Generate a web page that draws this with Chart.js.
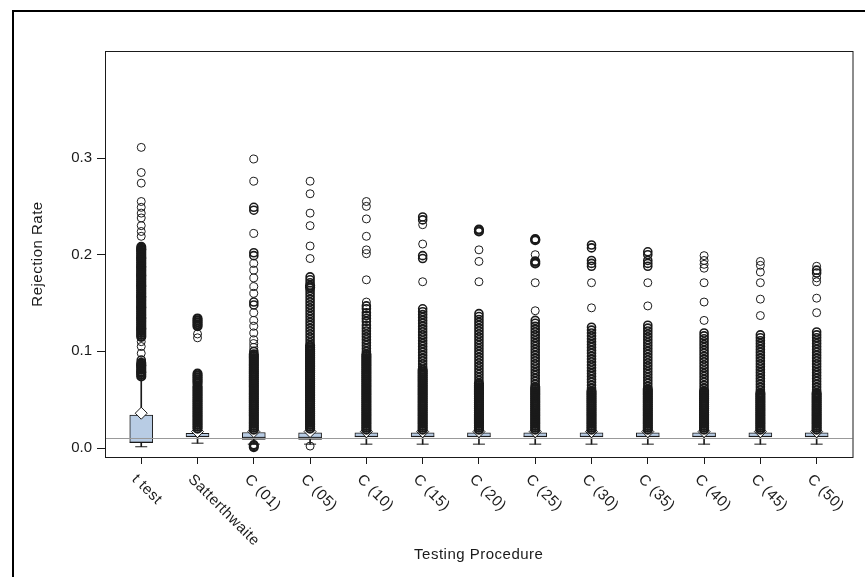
<!DOCTYPE html>
<html>
<head>
<meta charset="utf-8">
<script src="https://cdn.jsdelivr.net/npm/chart.js@4.4.1/dist/chart.umd.min.js"></script>
<style>
  html, body { margin: 0; padding: 0; background: #fff; }
  #frame { position: absolute; left: 12px; top: 10px; width: 880px; height: 600px; border: 2px solid #000; box-sizing: border-box; }
  #chart { position: absolute; left: 0; top: 0; }
</style>
</head>
<body>
<div id="frame"></div>
<canvas id="chart" width="865" height="577"></canvas>
<script>
// categories and tick labels
const categories = ['t test', 'Satterthwaite', 'C (01)', 'C (05)', 'C (10)', 'C (15)', 'C (20)',
                    'C (25)', 'C (30)', 'C (35)', 'C (40)', 'C (45)', 'C (50)'];
const yTicks = [0.0, 0.1, 0.2, 0.3];
const refRate = 0.01;

// box statistics
const q1s       = [0.0055, 0.0114, 0.009, 0.009, 0.0115, 0.0115, 0.0115, 0.0115, 0.0115, 0.0115, 0.0115, 0.0115, 0.0115];
const medians   = [0.006, 0.012, 0.011, 0.011, 0.012, 0.012, 0.012, 0.012, 0.012, 0.012, 0.012, 0.012, 0.012];
const q3s       = [0.034, 0.0152, 0.016, 0.0158, 0.0158, 0.0158, 0.0158, 0.0158, 0.0158, 0.0158, 0.0158, 0.0158, 0.0158];
const means     = [0.036, 0.017, 0.017, 0.017, 0.017, 0.017, 0.017, 0.017, 0.017, 0.017, 0.017, 0.017, 0.017];
const whiskLow  = [0.0013, 0.005, 0.004, 0.004, 0.004, 0.004, 0.004, 0.004, 0.004, 0.004, 0.004, 0.004, 0.004];
const whiskHigh = [0.073, 0.021, 0.019, 0.019, 0.019, 0.019, 0.019, 0.019, 0.019, 0.019, 0.019, 0.019, 0.019];

// outliers per procedure
const outTTest = [0.311, 0.285, 0.274, 0.255, 0.249, 0.243, 0.238, 0.230, 0.224, 0.219,
  0.208, 0.206, 0.205, 0.203, 0.201, 0.199, 0.197, 0.196, 0.194, 0.192, 0.190, 0.188, 0.187, 0.185, 0.183,
  0.181, 0.179, 0.178, 0.176, 0.174, 0.172, 0.170, 0.168, 0.167, 0.165, 0.163, 0.161, 0.159, 0.157, 0.156,
  0.154, 0.152, 0.150, 0.148, 0.146, 0.145, 0.143, 0.141, 0.139, 0.137, 0.135, 0.134, 0.132, 0.130, 0.128,
  0.126, 0.124, 0.123, 0.121, 0.119, 0.117, 0.115,
  0.110, 0.105, 0.098, 0.091,
  0.088, 0.086, 0.085, 0.083, 0.081, 0.079, 0.078, 0.076, 0.074];
const outSatt = [0.134, 0.132, 0.130, 0.128, 0.126, 0.118, 0.114,
  0.077, 0.075, 0.073, 0.071, 0.069, 0.067, 0.064, 0.062, 0.060, 0.058, 0.056, 0.054, 0.052, 0.050, 0.048,
  0.046, 0.044, 0.042, 0.040, 0.038, 0.036, 0.034, 0.032, 0.030, 0.028, 0.026, 0.024, 0.022, 0.020];
const outC01 = [0.299, 0.276, 0.249, 0.246, 0.222, 0.202, 0.199, 0.191, 0.184, 0.176, 0.167, 0.160, 0.151,
  0.148, 0.140, 0.132, 0.126, 0.119, 0.112, 0.108, 0.104, 0.100,
  0.097, 0.095, 0.093, 0.091, 0.089, 0.087, 0.085, 0.083, 0.081, 0.079, 0.077, 0.075, 0.073, 0.071, 0.069,
  0.067, 0.065, 0.063, 0.061, 0.059, 0.057, 0.055, 0.053, 0.051, 0.049, 0.047, 0.045, 0.043, 0.041, 0.039,
  0.037, 0.035, 0.033, 0.031, 0.029, 0.027, 0.025, 0.023, 0.021, 0.019,
  0.003, 0.001];
const outC05 = [0.276, 0.263, 0.243, 0.230, 0.209, 0.196,
  0.177, 0.174, 0.171, 0.168, 0.166, 0.163, 0.160, 0.157, 0.154, 0.151, 0.148, 0.145, 0.142, 0.139, 0.136,
  0.133, 0.130, 0.127, 0.124, 0.121, 0.118, 0.115, 0.112, 0.109, 0.106,
  0.104, 0.102, 0.100, 0.098, 0.096, 0.094, 0.092, 0.090, 0.088, 0.086, 0.084, 0.082, 0.080, 0.078, 0.076,
  0.074, 0.072, 0.070, 0.068, 0.066, 0.064, 0.062, 0.060, 0.058, 0.056, 0.054, 0.052, 0.050, 0.048, 0.046,
  0.044, 0.042, 0.040, 0.038, 0.036, 0.034, 0.032, 0.030, 0.028, 0.026, 0.024, 0.022, 0.020,
  0.002];
const outC10 = [0.255, 0.250, 0.237, 0.219, 0.205, 0.201, 0.174, 0.151,
  0.147, 0.144, 0.140, 0.137, 0.134, 0.131, 0.127, 0.124, 0.121, 0.118, 0.115, 0.112, 0.109, 0.106, 0.103, 0.100,
  0.097, 0.095, 0.093, 0.091, 0.089, 0.087, 0.085, 0.083, 0.081, 0.079, 0.077, 0.075, 0.073, 0.071, 0.069,
  0.067, 0.065, 0.063, 0.061, 0.059, 0.057, 0.055, 0.053, 0.051, 0.049, 0.047, 0.045, 0.043, 0.041, 0.039,
  0.037, 0.035, 0.033, 0.031, 0.029, 0.027, 0.025, 0.023, 0.021, 0.019];
const outC15 = [0.239, 0.236, 0.231, 0.211, 0.199, 0.196, 0.172,
  0.144, 0.141, 0.138, 0.135, 0.132, 0.129, 0.126, 0.123, 0.120, 0.117, 0.114, 0.111, 0.108, 0.105, 0.102,
  0.099, 0.096, 0.093, 0.090, 0.087, 0.084, 0.081,
  0.079, 0.077, 0.075, 0.073, 0.071, 0.069, 0.067, 0.065, 0.063, 0.061, 0.059, 0.057, 0.055, 0.053, 0.051,
  0.049, 0.047, 0.045, 0.043, 0.041, 0.039, 0.037, 0.035, 0.033, 0.031, 0.029, 0.027, 0.025, 0.023, 0.021, 0.019];
const outC20 = [0.226, 0.224, 0.205, 0.193, 0.172,
  0.139, 0.136, 0.133, 0.130, 0.127, 0.124, 0.121, 0.118, 0.115, 0.112, 0.109, 0.106, 0.103, 0.100, 0.097,
  0.094, 0.091, 0.088, 0.085, 0.082, 0.079, 0.076, 0.073, 0.070, 0.067,
  0.065, 0.063, 0.061, 0.059, 0.057, 0.055, 0.053, 0.051, 0.049, 0.047, 0.045, 0.043, 0.041, 0.039, 0.037,
  0.035, 0.033, 0.031, 0.029, 0.027, 0.025, 0.023, 0.021, 0.019];
const outC25 = [0.216, 0.215, 0.200, 0.193, 0.191, 0.171, 0.142,
  0.132, 0.129, 0.126, 0.123, 0.120, 0.117, 0.114, 0.111, 0.108, 0.105, 0.102, 0.099, 0.096, 0.093, 0.090,
  0.087, 0.084, 0.081, 0.078, 0.075, 0.072, 0.069, 0.066, 0.063,
  0.061, 0.059, 0.057, 0.055, 0.053, 0.051, 0.049, 0.047, 0.045, 0.043, 0.041, 0.039, 0.037, 0.035, 0.033,
  0.031, 0.029, 0.027, 0.025, 0.023, 0.021, 0.019];
const outC30 = [0.210, 0.207, 0.194, 0.191, 0.188, 0.171, 0.145,
  0.125, 0.122, 0.119, 0.116, 0.113, 0.110, 0.107, 0.104, 0.101, 0.098, 0.095, 0.092, 0.089, 0.086, 0.083,
  0.080, 0.077, 0.074, 0.071, 0.068, 0.065, 0.062, 0.059,
  0.057, 0.055, 0.053, 0.051, 0.049, 0.047, 0.045, 0.043, 0.041, 0.039, 0.037, 0.035, 0.033, 0.031, 0.029,
  0.027, 0.025, 0.023, 0.021, 0.019];
const outC35 = [0.203, 0.200, 0.194, 0.191, 0.188, 0.171, 0.147,
  0.127, 0.124, 0.121, 0.118, 0.115, 0.112, 0.109, 0.106, 0.103, 0.100, 0.097, 0.094, 0.091, 0.088, 0.085,
  0.082, 0.079, 0.076, 0.073, 0.070, 0.067, 0.064,
  0.061, 0.059, 0.057, 0.055, 0.053, 0.051, 0.049, 0.047, 0.045, 0.043, 0.041, 0.039, 0.037, 0.035, 0.033,
  0.031, 0.029, 0.027, 0.025, 0.023, 0.021, 0.019];
const outC40 = [0.199, 0.194, 0.190, 0.186, 0.171, 0.151, 0.132,
  0.119, 0.116, 0.113, 0.110, 0.107, 0.104, 0.101, 0.098, 0.095, 0.092, 0.089, 0.086, 0.083, 0.080, 0.077,
  0.074, 0.071, 0.068, 0.065, 0.062,
  0.059, 0.057, 0.055, 0.053, 0.051, 0.049, 0.047, 0.045, 0.043, 0.041, 0.039, 0.037, 0.035, 0.033, 0.031,
  0.029, 0.027, 0.025, 0.023, 0.021, 0.019];
const outC45 = [0.193, 0.189, 0.182, 0.171, 0.154, 0.137,
  0.117, 0.114, 0.111, 0.108, 0.105, 0.102, 0.099, 0.096, 0.093, 0.090, 0.087, 0.084, 0.081, 0.078, 0.075,
  0.072, 0.069, 0.066, 0.063, 0.060, 0.057,
  0.055, 0.053, 0.051, 0.049, 0.047, 0.045, 0.043, 0.041, 0.039, 0.037, 0.035, 0.033, 0.031, 0.029, 0.027,
  0.025, 0.023, 0.021, 0.019];
const outC50 = [0.188, 0.184, 0.181, 0.176, 0.172, 0.155, 0.140,
  0.120, 0.117, 0.114, 0.111, 0.108, 0.105, 0.102, 0.099, 0.096, 0.093, 0.090, 0.087, 0.084, 0.081, 0.078,
  0.075, 0.072, 0.069, 0.066, 0.063, 0.060, 0.057,
  0.055, 0.053, 0.051, 0.049, 0.047, 0.045, 0.043, 0.041, 0.039, 0.037, 0.035, 0.033, 0.031, 0.029, 0.027,
  0.025, 0.023, 0.021, 0.019];
const outliers = [outTTest, outSatt, outC01, outC05, outC10, outC15, outC20,
                  outC25, outC30, outC35, outC40, outC45, outC50];

const FONT = "'Liberation Sans', Arial, sans-serif";
const INK = '#1a1a1a';

// build datasets from the arrays
const boxData = categories.map((c, i) => ({ x: i, y: [q1s[i], q3s[i]] }));
const upperWhisk = categories.map((c, i) => ({ x: i, y: [q3s[i], whiskHigh[i]] }));
const lowerWhisk = categories.map((c, i) => ({ x: i, y: [whiskLow[i], q1s[i]] }));
const capData = categories.map((c, i) => ({ x: i, y: whiskLow[i] }));
const medianData = categories.map((c, i) => ({ x: i, y: medians[i] }));
const meanData = categories.map((c, i) => ({ x: i, y: means[i] }));
const outlierData = [];
outliers.forEach((list, i) => list.forEach((v, k) => {
    // gap to the nearest neighbour in the same column, used to thicken packed runs
    const gaps = [];
    if (k > 0) gaps.push(Math.abs(list[k - 1] - v));
    if (k < list.length - 1) gaps.push(Math.abs(list[k + 1] - v));
    outlierData.push({ x: i, y: v, gap: Math.min(...gaps) });
}));

function ringWidth(c) {
    if (!c.raw) return 1;
    if (c.raw.gap < 0.0025) return 2.2;
    if (c.raw.gap < 0.0035) return 1.6;
    return 1;
}

// frame, reference line, rotated category labels and axis titles
const extras = {
    id: 'extras',
    afterDatasetsDraw(chart) {
        const { ctx, chartArea: a, scales } = chart;
        const yRef = scales.y.getPixelForValue(refRate);
        ctx.save();
        ctx.strokeStyle = '#999';
        ctx.lineWidth = 1;
        ctx.beginPath();
        ctx.moveTo(a.left, Math.round(yRef) + 0.5);
        ctx.lineTo(a.right, Math.round(yRef) + 0.5);
        ctx.stroke();
        ctx.strokeStyle = INK;
        ctx.strokeRect(a.left + 0.5, a.top + 0.5, a.right - a.left, a.bottom - a.top);
        ctx.restore();
    },
    afterDraw(chart) {
        const { ctx, chartArea: a, scales } = chart;
        ctx.save();
        ctx.fillStyle = INK;
        ctx.font = '15px ' + FONT;
        ctx.letterSpacing = '0.5px';
        ctx.textAlign = 'left';
        ctx.textBaseline = 'middle';
        categories.forEach((c, i) => {
            const x = scales.x.getPixelForValue(i);
            ctx.save();
            ctx.translate(x - 7, a.bottom + 20);
            ctx.rotate(Math.PI / 4);
            ctx.fillText(c, 0, 0);
            ctx.restore();
        });
        ctx.textAlign = 'center';
        ctx.fillText('Testing Procedure', (a.left + a.right) / 2, 555);
        ctx.save();
        ctx.translate(38, (a.top + a.bottom) / 2);
        ctx.rotate(-Math.PI / 2);
        ctx.fillText('Rejection Rate', 0, 0);
        ctx.restore();
        ctx.restore();
    }
};

new Chart(document.getElementById('chart').getContext('2d'), {
    type: 'bar',
    data: {
        datasets: [
            {
                type: 'scatter', data: outlierData, order: 1,
                pointStyle: 'circle', pointRadius: 4,
                pointBorderWidth: ringWidth,
                pointBorderColor: INK, pointBackgroundColor: 'rgba(0,0,0,0)'
            },
            {
                type: 'scatter', data: meanData, order: 2,
                pointStyle: 'rectRot', pointRadius: 6, pointBorderWidth: 1,
                pointBorderColor: INK, pointBackgroundColor: '#fff'
            },
            {
                type: 'scatter', data: medianData, order: 3,
                pointStyle: 'line', pointRadius: 11.5, pointBorderWidth: 1, pointBorderColor: INK
            },
            {
                type: 'bar', data: boxData, order: 4, grouped: false, barThickness: 23,
                backgroundColor: '#b8cce4', borderColor: INK, borderWidth: 1, borderSkipped: false
            },
            {
                type: 'scatter', data: capData, order: 5,
                pointStyle: 'line', pointRadius: 6, pointBorderWidth: 1, pointBorderColor: INK
            },
            {
                type: 'bar', data: upperWhisk, order: 6, grouped: false, barThickness: 1,
                backgroundColor: INK, borderWidth: 0
            },
            {
                type: 'bar', data: lowerWhisk, order: 6, grouped: false, barThickness: 1,
                backgroundColor: INK, borderWidth: 0
            }
        ]
    },
    options: {
        responsive: false,
        animation: false,
        layout: { padding: { left: 0, top: 51, right: 3, bottom: 0 } },
        plugins: { legend: { display: false }, tooltip: { enabled: false } },
        scales: {
            x: {
                type: 'linear',
                offset: false,
                min: -0.644,
                max: 12.637,
                afterBuildTicks: scale => { scale.ticks = categories.map((c, i) => ({ value: i })); },
                afterFit: scale => { scale.height = 120; },
                ticks: { display: false },
                grid: { offset: false, drawOnChartArea: false, drawTicks: true, tickLength: 7, color: INK },
                border: { display: true, color: INK, width: 1 }
            },
            y: {
                type: 'linear',
                min: -0.0093,
                max: 0.4107,
                afterBuildTicks: scale => { scale.ticks = yTicks.map(v => ({ value: v })); },
                afterFit: scale => { scale.width = 105; },
                ticks: {
                    color: INK, padding: 5,
                    font: { family: FONT, size: 15 },
                    callback: v => v.toFixed(1)
                },
                grid: { drawOnChartArea: false, drawTicks: true, tickLength: 8, color: INK },
                border: { display: true, color: INK, width: 1 }
            }
        }
    },
    plugins: [extras]
});
</script>
</body>
</html>
